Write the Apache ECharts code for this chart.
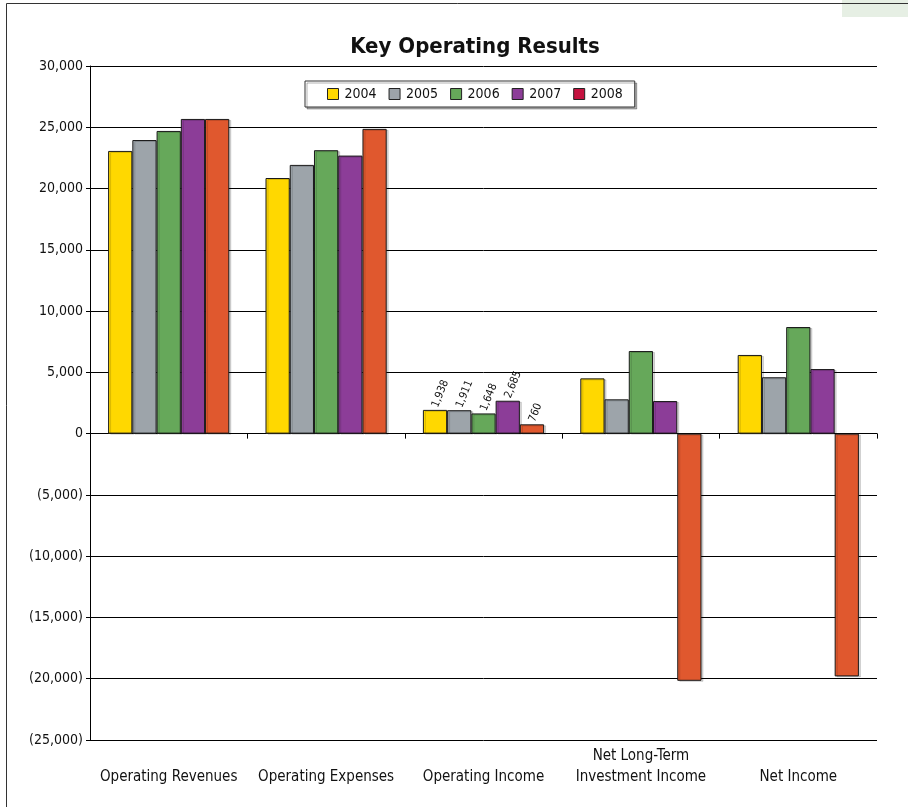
<!DOCTYPE html>
<html>
<head>
<meta charset="utf-8">
<script src="https://cdn.jsdelivr.net/npm/echarts@6/dist/echarts.min.js"></script>
<style>
  html, body { margin: 0; padding: 0; background: #fff; }
  #chart { width: 908px; height: 807px; }
</style>
</head>
<body>
<div id="chart"></div>
<script>
const FONT = '"Liberation Sans Narrow", "DejaVu Sans Condensed", sans-serif';

// chart data
const categories = ['Operating Revenues', 'Operating Expenses', 'Operating Income', 'Net Long-Term\nInvestment Income', 'Net Income'];
const years = ['2004', '2005', '2006', '2007', '2008'];
const v2004 = [23070, 20860, 1938, 4510, 6420];
const v2005 = [23960, 21930, 1911, 2800, 4600];
const v2006 = [24700, 23130, 1648, 6740, 8700];
const v2007 = [25680, 22690, 2685, 2660, 5270];
const v2008 = [25680, 24870, 760, -20170, -19810];
const barColors = ['#FFD800', '#9DA4AA', '#66A85A', '#8C3D98', '#E0582E'];
const legendColors = ['#FFD800', '#9DA4AA', '#66A85A', '#8C3D98', '#C4123F'];
const labelledCategory = 2; // only Operating Income gets value labels

const chart = echarts.init(document.getElementById('chart'), null, { renderer: 'canvas' });

function fmt(v) {
  const s = Math.abs(v).toLocaleString('en-US');
  return v < 0 ? '(' + s + ')' : s;
}

const seriesValues = [v2004, v2005, v2006, v2007, v2008];

const series = years.map((y, i) => ({
  name: y,
  type: 'bar',
  barGap: '0%',
  barCategoryGap: '23%',
  itemStyle: {
    color: barColors[i],
    borderColor: '#1a1a1a',
    borderWidth: 1,
    shadowColor: 'rgba(0,0,0,0.15)',
    shadowOffsetX: 2,
    shadowOffsetY: 1,
  },
  data: seriesValues[i].map((v, k) => k === labelledCategory ? {
    value: v,
    label: {
      show: true,
      position: 'top',
      rotate: 68,
      align: 'left',
      verticalAlign: 'middle',
      distance: 3,
      fontFamily: FONT,
      fontSize: 11,
      color: '#111',
      formatter: (p) => fmt(p.value),
    },
  } : v),
}));

const option = {
  animation: false,
  backgroundColor: '#fff',
  title: {
    text: 'Key Operating Results',
    left: 470,
    textAlign: 'center',
    top: 31,
    textStyle: { fontFamily: FONT, fontSize: 22, fontWeight: 'bold', color: '#111' },
  },
  legend: {
    left: 305,
    top: 81,
    padding: [6, 12, 6, 22],
    itemWidth: 11,
    itemHeight: 11,
    itemGap: 12,
    borderColor: '#333',
    borderWidth: 1,
    shadowColor: 'rgba(0,0,0,0.3)',
    shadowOffsetX: 2,
    shadowOffsetY: 2,
    backgroundColor: '#fff',
    icon: 'rect',
    textStyle: { fontFamily: FONT, fontSize: 14, color: '#111', padding: [0, 0, 0, 1] },
    data: years.map((y, i) => ({ name: y, itemStyle: { color: legendColors[i], borderColor: '#222', borderWidth: 1 } })),
  },
  grid: { left: 90, right: 31, top: 66, bottom: 67, containLabel: false },
  xAxis: [
    {
      type: 'category',
      data: categories,
      position: 'bottom',
      axisLine: { show: false, onZero: false },
      axisTick: { show: false },
      axisLabel: {
        interval: 0,
        margin: 48,
        verticalAlign: 'bottom',
        fontFamily: FONT,
        fontSize: 15,
        color: '#111',
        lineHeight: 21,
      },
    },
    {
      type: 'category',
      data: categories,
      position: 'bottom',
      axisLine: { show: true, onZero: true, lineStyle: { color: '#000', width: 1 } },
      axisTick: { show: true, length: 5, alignWithLabel: false, lineStyle: { color: '#000' } },
      axisLabel: { show: false },
    },
  ],
  yAxis: {
    type: 'value',
    min: -25000,
    max: 30000,
    interval: 5000,
    axisLine: { show: true, lineStyle: { color: '#000', width: 1 } },
    axisTick: { show: true, length: 4, lineStyle: { color: '#000' } },
    splitLine: { show: true, lineStyle: { color: '#000', width: 1 } },
    axisLabel: {
      margin: 7,
      fontFamily: FONT,
      fontSize: 14,
      color: '#111',
      formatter: fmt,
    },
  },
  graphic: [
    {
      type: 'rect',
      shape: { x: 842, y: 0, width: 70, height: 17 },
      style: { fill: '#E6EFE4' },
      silent: true,
      z: -1,
    },
    {
      type: 'polyline',
      shape: { points: [[6.5, 807], [6.5, 3.5], [908, 3.5]] },
      style: { stroke: '#333', lineWidth: 1, fill: null },
      silent: true,
    },
  ],
  series: series,
};

chart.setOption(option);
</script>
</body>
</html>
